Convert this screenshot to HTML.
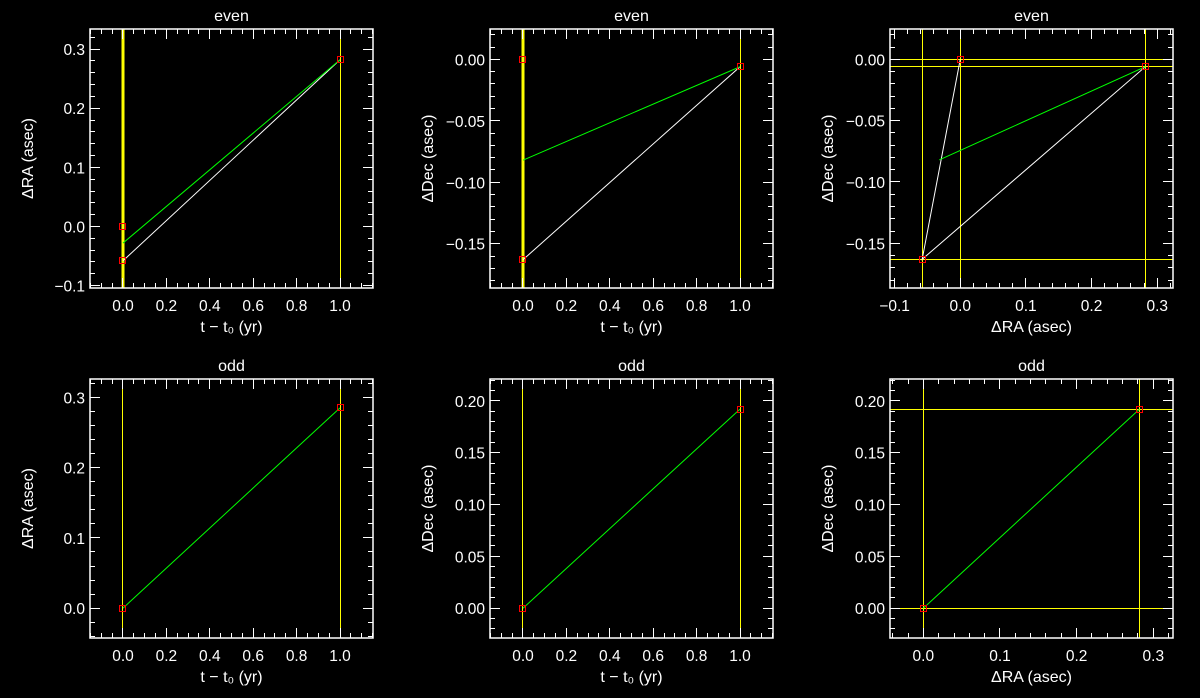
<!DOCTYPE html>
<html><head><meta charset="utf-8">
<style>
html,body{margin:0;padding:0;background:#000;}
svg{display:block;}
text{font-family:"Liberation Sans","DejaVu Sans",sans-serif;fill:#fff;}
</style></head>
<body>
<svg id="fig" width="1200" height="698" viewBox="0 0 1200 698" xmlns="http://www.w3.org/2000/svg"></svg>
<script>
// ---- data per panel ----
const titles = ["even","even","even","odd","odd","odd"];
const xTitles = ["t \u2212 t\u2080 (yr)","t \u2212 t\u2080 (yr)","\u0394RA (asec)","t \u2212 t\u2080 (yr)","t \u2212 t\u2080 (yr)","\u0394RA (asec)"];
const yTitles = ["\u0394RA (asec)","\u0394Dec (asec)","\u0394Dec (asec)","\u0394RA (asec)","\u0394Dec (asec)","\u0394Dec (asec)"];
const xRanges = [[-0.152,1.152],[-0.152,1.152],[-0.107,0.324],[-0.152,1.152],[-0.152,1.152],[-0.0435,0.3257]];
const yRanges = [[-0.104,0.334],[-0.186,0.0247],[-0.1864,0.0247],[-0.0424,0.326],[-0.0287,0.221],[-0.0287,0.221]];
const xMajor = [0.2,0.2,0.1,0.2,0.2,0.1];
const xMinor = [0.05,0.05,0.02,0.05,0.05,0.02];
const yMajor = [0.1,0.05,0.05,0.1,0.05,0.05];
const yMinor = [0.02,0.01,0.01,0.02,0.01,0.01];
const xDecimals = [1,1,1,1,1,1];
const yDecimals = [1,2,2,1,2,2];
// white model tracks
const whiteX = [[0,1],[0,1],[0,-0.058,0.282],[],[],[]];
const whiteY = [[-0.058,0.282],[-0.163,-0.006],[0,-0.163,-0.006],[],[],[]];
// green fitted tracks
const greenX = [[0,1],[0,1],[-0.032,0.282],[0,1],[0,1],[0,0.282]];
const greenY = [[-0.028,0.282],[-0.082,-0.006],[-0.082,-0.006],[0,0.285],[0,0.192],[0,0.192]];
// red observed points
const redX = [[0,0,1],[0,0,1],[0,0.282,-0.058],[0,1],[0,1],[0,0.282]];
const redY = [[0,-0.058,0.282],[0,-0.163,-0.006],[0,-0.006,-0.163],[0,0.285],[0,0.192],[0,0.192]];
// yellow reference lines
const vLines = [[0,1],[0,1],[-0.058,0,0.282],[0,1],[0,1],[0,0.282]];
const vThick = [[3,1],[3,1],[1,1,1],[1,1],[1,1],[1,1]];
const hLines = [[],[],[0,-0.006,-0.163],[],[],[0,0.192]];

const NS="http://www.w3.org/2000/svg";
const svg=document.getElementById('fig');
function mk(tag,attrs,parent){const e=document.createElementNS(NS,tag);for(const k in attrs)e.setAttribute(k,attrs[k]);(parent||svg).appendChild(e);return e;}
const snap=v=>Math.round(v-0.5)+0.5;

const colX=[90,490,890], rowY=[29,379], W=283, H=259;

for(let p=0;p<6;p++){
  const bx=colX[p%3], by=rowY[Math.floor(p/3)];
  const g=mk('g',{});
  
  
  const [x0,x1]=xRanges[p],[y0,y1]=yRanges[p];
  const sx=v=>bx+(v-x0)/(x1-x0)*W;
  const sy=v=>by+H-(v-y0)/(y1-y0)*H;
  const clipId='clip'+p;
  const cp=mk('clipPath',{id:clipId},g);
  mk('rect',{x:bx,y:by,width:W,height:H},cp);
  const plot=mk('g',{'clip-path':'url(#'+clipId+')'},g);
  
  
  vLines[p].forEach((v,i)=>{const X=vThick[p][i]===1?snap(sx(v)):Math.round(sx(v));
    const l=mk('line',{x1:X,x2:X,y1:by,y2:by+H,stroke:'#ffff00','stroke-width':vThick[p][i]},plot);
    
    });
  hLines[p].forEach(v=>{const Y=snap(sy(v));
    const l=mk('line',{x1:bx,x2:bx+W,y1:Y,y2:Y,stroke:'#ffff00','stroke-width':1},plot);
    
    });
  if(whiteX[p].length){const pl=mk('polyline',{points:whiteX[p].map((v,i)=>sx(v)+','+sy(whiteY[p][i])).join(' '),fill:'none',stroke:'#fff','stroke-width':1},plot);
    
    }
  const gl=mk('polyline',{points:greenX[p].map((v,i)=>sx(v)+','+sy(greenY[p][i])).join(' '),fill:'none',stroke:'#00ff00','stroke-width':1},plot);
  
  
  redX[p].forEach((v,i)=>{const r=mk('rect',{x:snap(sx(v))-3,y:snap(sy(redY[p][i]))-3,width:6,height:6,fill:'none',stroke:'#ff0000','stroke-width':1},plot);
    
    });
  const box=mk('rect',{x:bx,y:by,width:W,height:H,fill:'none',stroke:'#fff','stroke-width':1.5},g);
  
  
  const ticks=mk('g',{stroke:'#fff','stroke-width':1},g);
  
  
  const eps=1e-9;
  for(let v=Math.ceil(x0/xMinor[p]-eps)*xMinor[p];v<=x1+eps;v+=xMinor[p]){
    const isMaj=Math.abs(v/xMajor[p]-Math.round(v/xMajor[p]))<1e-4;
    const len=isMaj?10:5, X=snap(sx(v));
    mk('line',{x1:X,x2:X,y1:by+H,y2:by+H-len},ticks);
    mk('line',{x1:X,x2:X,y1:by,y2:by+len},ticks);
    if(isMaj){const t=mk('text',{x:sx(v),y:by+H+23,'text-anchor':'middle','font-size':15.5},g);
      t.textContent=(Math.abs(v)<1e-9?0:v).toFixed(xDecimals[p]).replace('-','\u2212');
      
      }
  }
  for(let v=Math.ceil(y0/yMinor[p]-eps)*yMinor[p];v<=y1+eps;v+=yMinor[p]){
    const isMaj=Math.abs(v/yMajor[p]-Math.round(v/yMajor[p]))<1e-4;
    const len=isMaj?10:5, Y=snap(sy(v));
    mk('line',{x1:bx,x2:bx+len,y1:Y,y2:Y},ticks);
    mk('line',{x1:bx+W,x2:bx+W-len,y1:Y,y2:Y},ticks);
    if(isMaj){const t=mk('text',{x:bx-5,y:sy(v)+6,'text-anchor':'end','font-size':15.5},g);
      t.textContent=(Math.abs(v)<1e-9?0:v).toFixed(yDecimals[p]).replace('-','\u2212');
      
      }
  }
  const tt=mk('text',{x:bx+W/2,y:by-8,'text-anchor':'middle','font-size':16},g);
  tt.textContent=titles[p];
  
  
  const xt=mk('text',{x:bx+W/2,y:by+H+44,'text-anchor':'middle','font-size':16},g);
  xt.textContent=xTitles[p];
  
  
  const yx=bx-57, yy=by+H/2;
  const yt=mk('text',{x:yx,y:yy,'text-anchor':'middle','font-size':16,transform:'rotate(-90 '+yx+' '+yy+')'},g);
  yt.textContent=yTitles[p];
  
  
}
</script>
</body></html>
